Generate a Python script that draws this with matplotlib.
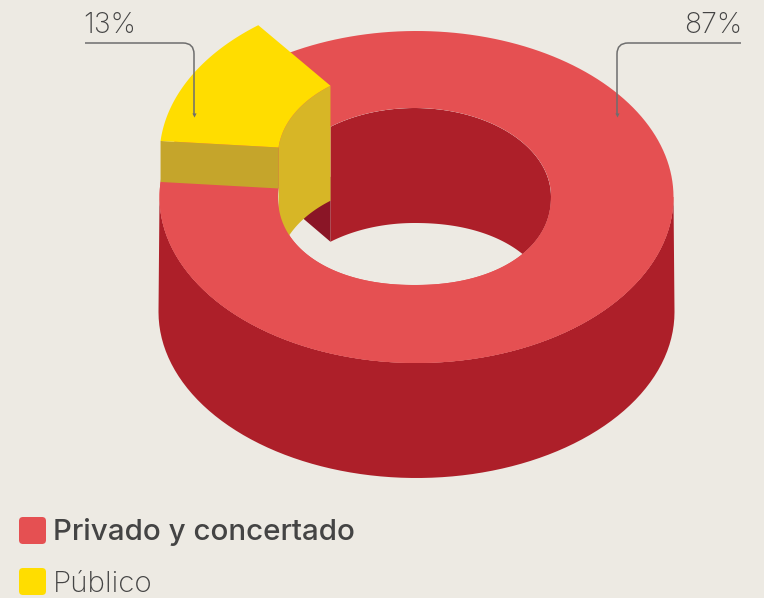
import numpy as np
import matplotlib
matplotlib.use('Agg')
import matplotlib.pyplot as plt
from matplotlib.patches import Polygon, FancyBboxPatch, PathPatch
from matplotlib.path import Path

categorias = ['Privado y concertado', 'Público']
valores = [87, 13]
etiquetas = ['87%', '13%']

FONDO = '#EDEAE3'
ROJO = '#E55052'
ROJO_OSCURO = '#AD1F29'
ROJO_SOMBRA = '#8A1526'
AMARILLO = '#FFDD00'
AMARILLO_BANDA = '#C5A52B'
AMARILLO_INT = '#D7B626'
TEXTO = '#444444'
LINEA = '#6E6E6E'

# geometria del donut, en pixeles de la imagen
CX, CY, RX, RY = 416.5, 197, 257, 166
CXI, CYI, RXI, RYI = 414.5, 196.5, 136.5, 88.5
PROF = 115
SUBE = 41
T0 = 128


def arco(cx, cy, rx, ry, t1, t2, n=80, exp=2.0):
    # exp > 2 hace la curva algo mas cuadrada, como el borde delantero del agujero
    t = np.radians(np.linspace(t1, t2, n))
    c, s = np.cos(t), np.sin(t)
    x = np.sign(c) * np.abs(c) ** (2 / exp)
    y = np.sign(s) * np.abs(s) ** (2 / exp)
    return np.column_stack([cx + rx * x, cy - ry * y])


fig = plt.figure(figsize=(7.64, 5.98), dpi=100, facecolor=FONDO)
ax = fig.add_axes([0, 0, 1, 1])
ax.set_xlim(0, 764)
ax.set_ylim(598, 0)
ax.axis('off')

# pared exterior
frente = arco(CX, CY, RX, RY, 180, 360)
abajo = arco(CX, CY + PROF, RX + 1, RY, 360, 180)
ax.add_patch(Polygon(np.vstack([frente, abajo]), fc=ROJO_OSCURO, ec='none', zorder=1))

# cara superior roja y agujero
ax.add_patch(Polygon(arco(CX, CY, RX, RY, 0, 360, 200), fc=ROJO, ec='none', zorder=2))
borde_hueco = np.vstack([arco(CXI, CYI, RXI, RYI, 0, 180, 100),
                         arco(CXI, CYI, RXI, RYI, 180, 360, 100, exp=2.15)])
hueco = Polygon(borde_hueco, fc=FONDO, ec='none', zorder=3)
ax.add_patch(hueco)

# angulos de la porcion amarilla segun su valor
t1 = T0
t2 = T0 + valores[1] / sum(valores) * 360

# pared interior del agujero, solo a la derecha del corte
pared = Polygon(np.vstack([arco(CXI, CYI, RXI, RYI, 0, t1),
                           arco(CXI, CYI + PROF, RXI, RYI, t1, 90),
                           arco(CXI, CYI + PROF, RXI, RYI, 90, 0, exp=2.15)]),
                fc=ROJO_OSCURO, ec='none', zorder=4)
ax.add_patch(pared)
pared.set_clip_path(hueco)

# sombra bajo la porcion levantada
x_s = CXI + RXI * np.cos(np.radians(t1))
y_s = CYI - RYI * np.sin(np.radians(t1))
sombra = Polygon([(x_s, y_s + 50), (x_s, y_s + PROF), (x_s - 27, y_s + PROF - 23), (x_s - 27, y_s + 60)],
                 fc=ROJO_SOMBRA, ec='none', zorder=5)
ax.add_patch(sombra)

# pared interior amarilla
int_arr = arco(CXI, CYI - SUBE, RXI, RYI, t1, t2)
int_abj = arco(CXI, CYI - SUBE + PROF, RXI, RYI, t2, t1)
ax.add_patch(Polygon(np.vstack([int_arr, int_abj]), fc=AMARILLO_INT, ec='none', zorder=6))

# parte delantera roja, tapa la pared amarilla
ext_f = arco(CX, CY, RX, RY, t2, 360, 150)
int_f = arco(CXI, CYI, RXI, RYI, 360, t2, 150, exp=2.15)
ax.add_patch(Polygon(np.vstack([ext_f, int_f]), fc=ROJO, ec='none', zorder=7))

# banda lateral y cara superior amarilla
a = arco(CX, CY - SUBE, RX, RY, t2, t2, 1)[0]
b = arco(CXI, CYI - SUBE, RXI, RYI, t2, t2, 1)[0]
ax.add_patch(Polygon([a, b, b + [0, SUBE], a + [0, SUBE]], fc=AMARILLO_BANDA, ec='none', zorder=8))
sup_ext = arco(CX, CY - SUBE, RX, RY, t1, t2)
sup_int = arco(CXI, CYI - SUBE, RXI, RYI, t2, t1)
ax.add_patch(Polygon(np.vstack([sup_ext, sup_int]), fc=AMARILLO, ec='none', zorder=9))


def guia(x0, x1, y, y2):
    s = np.sign(x1 - x0)
    verts = [(x0, y), (x1 - s * 11, y), (x1, y), (x1, y + 11), (x1, y2)]
    codes = [Path.MOVETO, Path.LINETO, Path.CURVE3, Path.CURVE3, Path.LINETO]
    ax.add_patch(PathPatch(Path(verts, codes), fc='none', ec=LINEA, lw=1.1, zorder=10))
    ax.plot([x1], [y2], marker='v', ms=3, color=LINEA, mec='none', zorder=10)


guia(85, 194, 43, 115)
guia(741, 617, 43, 115)

ax.text(83.5, 33, etiquetas[1], family='Inter', weight='light', fontsize=20.5, color=TEXTO, ha='left', va='baseline', zorder=11)
ax.text(742, 33, etiquetas[0], family='Inter', weight='light', fontsize=20.5, color=TEXTO, ha='right', va='baseline', zorder=11)

# leyenda
colores = [ROJO, AMARILLO]
ys = [531, 582]
bases = [540.5, 592]
pesos = ['medium', 'light']
for cat, col, y, base, peso in zip(categorias, colores, ys, bases, pesos):
    ax.add_patch(FancyBboxPatch((22, y - 11), 21, 21, boxstyle='round,pad=3,rounding_size=4', fc=col, ec='none'))
    ax.text(53, base, cat, family='Inter', weight=peso, fontsize=21.3, color=TEXTO, ha='left', va='baseline')

fig.savefig('out.png', dpi=100, facecolor=FONDO)
